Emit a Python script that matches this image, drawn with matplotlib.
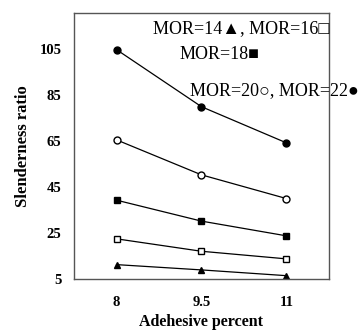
import matplotlib
matplotlib.use("Agg")
import matplotlib.pyplot as plt

# Pourcentage d'adhesif
adhesive = [8, 9.5, 11]

# Slenderness ratio par MOR
mor14 = [11.2, 8.9, 6.4]
mor16 = [22.4, 17.0, 13.7]
mor18 = [39.2, 30.1, 23.7]
mor20 = [65.4, 50.2, 39.9]
mor22 = [104.6, 79.8, 64.1]

yticks = [5, 25, 45, 65, 85, 105]
xticks = [8, 9.5, 11]
xtick_labels = ["8", "9.5", "11"]

plt.rcParams["font.family"] = ["Liberation Serif", "DejaVu Sans"]

fig = plt.figure(figsize=(3.63, 3.34), dpi=100)
ax = fig.add_axes([0.204, 0.165, 0.702, 0.796])

ms = 5
kw = dict(color="black", linewidth=0.9)
ax.plot(adhesive, mor22, marker="o", markersize=ms, markerfacecolor="black", **kw)
ax.plot(adhesive, mor20, marker="o", markersize=ms, markerfacecolor="white", **kw)
ax.plot(adhesive, mor18, marker="s", markersize=ms, markerfacecolor="black", **kw)
ax.plot(adhesive, mor16, marker="s", markersize=ms, markerfacecolor="white", **kw)
ax.plot(adhesive, mor14, marker="^", markersize=ms, markerfacecolor="black", **kw)

ax.set_xlim(7.25, 11.75)
ax.set_ylim(5, 120.5)
ax.set_xticks(xticks)
ax.set_xticklabels(xtick_labels)
ax.set_yticks(yticks)
ax.tick_params(axis="y", length=0, labelsize=10.5, pad=9)
ax.tick_params(axis="x", length=0, labelsize=10.5, pad=12)
for lab in ax.get_xticklabels() + ax.get_yticklabels():
    lab.set_fontweight("bold")

for sp in ax.spines.values():
    sp.set_color("#555555")
    sp.set_linewidth(1.0)

ax.set_xlabel("Adehesive percent", fontsize=11.5, fontweight="bold", labelpad=4)
ax.set_ylabel("Slenderness ratio", fontsize=12, fontweight="bold", labelpad=6)

# Legende ecrite a la main
tk = dict(fontsize=13, transform=ax.transAxes, va="center", ha="left", clip_on=False)
ax.text(0.31, 0.94, "MOR=14\u25B2, MOR=16\u25A1", **tk)
ax.text(0.415, 0.845, "MOR=18\u25A0", **tk)
ax.text(0.455, 0.71, "MOR=20\u25CB, MOR=22\u25CF", **tk)

fig.savefig("out.png", dpi=100)
